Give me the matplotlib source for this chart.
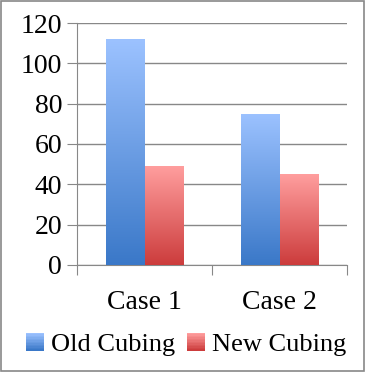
import numpy as np
import matplotlib.pyplot as plt
from matplotlib.patches import Rectangle
from matplotlib.colors import LinearSegmentedColormap
from matplotlib.legend_handler import HandlerBase

categories = ["Case 1", "Case 2"]
series_names = ["Old Cubing", "New Cubing"]
old_cubing = [112, 75]
new_cubing = [49, 45]

plt.rcParams["font.family"] = ["Liberation Serif", "DejaVu Serif"]

grads = [
    LinearSegmentedColormap.from_list("blue", ["#3a78c8", "#9cc2ff"]),
    LinearSegmentedColormap.from_list("red", ["#cc3c3c", "#ff9e9e"]),
]

fig = plt.figure(figsize=(3.65, 3.72), dpi=100)
ax = fig.add_axes([0.212, 0.288, 0.739, 0.65])

x = np.arange(len(categories))
w = 0.285
grad = np.linspace(0, 1, 256).reshape(-1, 1)
for i, (vals, cmap) in enumerate(zip([old_cubing, new_cubing], grads)):
    bars = ax.bar(x + (i - 0.5) * w, vals, w, color="none", zorder=3)
    for b in bars:
        x0, y0 = b.get_x(), b.get_y()
        im = ax.imshow(grad, cmap=cmap, aspect="auto", origin="lower",
                       extent=[x0, x0 + b.get_width(), y0, y0 + b.get_height()],
                       zorder=3)
        im.set_clip_path(b)

ax.set_xlim(-0.5, 1.5)
ax.set_ylim(0, 120)
ax.set_yticks(range(0, 121, 20))
ax.set_xticks([-0.5, 0.5, 1.5], minor=False)
ax.set_xticklabels([])
ax.set_xticks(x, minor=True)
ax.set_xticklabels(categories, minor=True, fontsize=20)
ax.tick_params(axis="x", which="minor", length=0, pad=18)
ax.tick_params(axis="x", which="major", length=7, color="#888888")
ax.tick_params(axis="y", length=7, color="#888888", labelsize=20, pad=4)
ax.yaxis.grid(True, color="#888888", linewidth=1, zorder=0)
ax.set_axisbelow(True)
for s in ["top", "right"]:
    ax.spines[s].set_visible(False)
for s in ["left", "bottom"]:
    ax.spines[s].set_color("#888888")


class GradHandler(HandlerBase):
    def __init__(self, cmap):
        super().__init__()
        self.cmap = cmap

    def create_artists(self, legend, orig, xd, yd, width, height, fontsize, trans):
        n = 12
        side = width
        x0 = xd
        y0 = yd + (height - side) / 2
        arts = []
        for k in range(n):
            arts.append(Rectangle((x0, y0 + k * side / n), side, side / n + 0.05,
                                  color=self.cmap(k / (n - 1)), transform=trans, lw=0))
        return arts


handles = [Rectangle((0, 0), 1, 1) for _ in series_names]
fig.legend(handles, series_names, loc="center", bbox_to_anchor=(0.51, 0.075),
           ncol=2, frameon=False, fontsize=19, handlelength=0.68, handletextpad=0.27,
           columnspacing=0.42,
           handler_map={handles[0]: GradHandler(grads[0]), handles[1]: GradHandler(grads[1])})

fig.patches.append(Rectangle((0.003, 0.003), 0.994, 0.994, transform=fig.transFigure,
                             fill=False, edgecolor="#888888", linewidth=1.2))

plt.savefig("out.png", dpi=100)
